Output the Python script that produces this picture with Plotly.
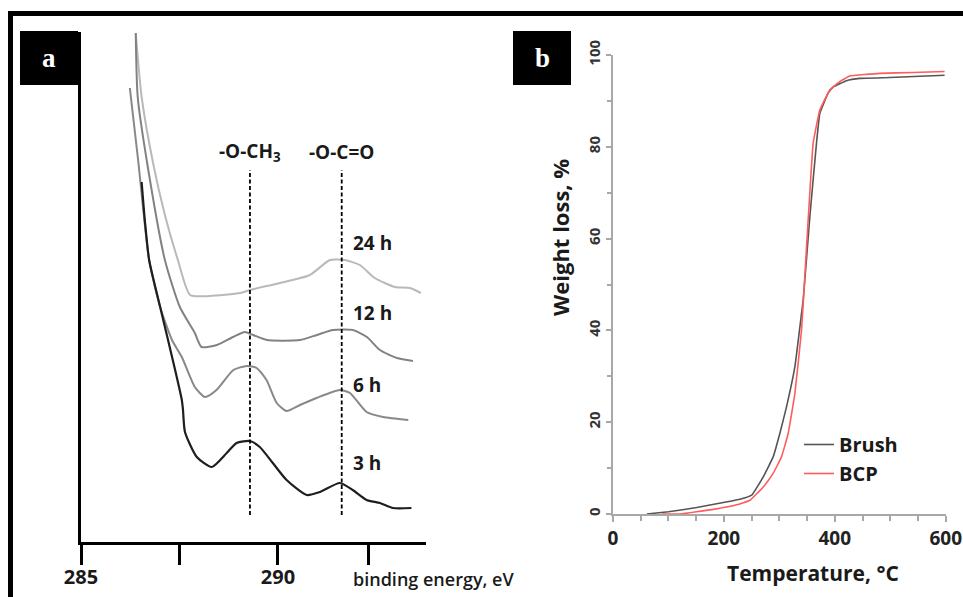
import plotly.graph_objects as go

W, H = 963, 597

# ---------------- Panel a: XPS C1s spectra (binding energy, eV ; intensity, a.u.) -------------
e_24h = [286.39, 286.54, 286.83, 287.13, 287.46, 287.77, 288.27, 289.04, 289.29, 290.05,
         290.81, 291.32, 291.70, 292.08, 292.46, 292.97, 293.35, 293.63]
i_24h = [509, 445, 379, 327, 282, 247, 246, 249, 252, 259,
         267, 282, 282, 277, 264, 255, 254, 249]

e_12h = [286.39, 286.44, 286.68, 287.13, 287.51, 287.89, 288.06, 288.45, 288.86, 289.16,
         289.37, 289.72, 290.56, 290.99, 291.40, 291.90, 292.26, 292.59, 293.02, 293.43]
i_12h = [509, 445, 379, 282, 235, 209, 195, 197, 205, 210,
         207, 202, 202, 207, 212, 212, 205, 192, 184, 181]

e_6h = [286.24, 286.45, 286.73, 287.01, 287.31, 287.56, 287.89, 288.15, 288.44,
        288.87, 289.21, 289.46, 289.71, 289.97, 290.22, 290.56, 290.98, 291.57, 291.83, 292.25,
        292.67, 293.31]
i_6h = [454, 382, 282, 235, 202, 185, 155, 145, 152,
        172, 176, 174, 162, 139, 131, 137, 144, 152, 149, 130,
        125, 122]

e_3h = [286.54, 286.62, 286.73, 287.01, 287.21, 287.39, 287.56, 287.59, 287.64, 287.94,
        288.32, 288.70, 288.95, 289.29, 289.54, 289.87, 290.22, 290.73, 291.07, 291.57, 291.90,
        292.25, 292.59, 292.92, 293.39]
i_3h = [360, 322, 282, 235, 202, 172, 142, 132, 110, 85,
        75, 89, 99, 101, 95, 79, 62, 47, 50, 59, 52,
        42, 39, 34, 34]

time_labels = ["24 h", "12 h", "6 h", "3 h"]
time_label_y = [299, 229, 157, 79]

peak_names = ["-O-CH<sub>3</sub>", "-O-C=O"]
peak_energies = [289.29, 291.62]
peak_line_span = [27, 372]

xa_tickvals = [285, 287.5, 290, 292.3]
xa_ticktext = ["285", " ", "290", " "]

# ---------------- Panel b: TGA (temperature, °C ; weight loss, %) -------------
t_brush = [61, 100, 151, 199, 229, 250, 271, 289, 301, 313, 328, 340, 343, 355, 367, 373, 388,
           397, 421, 445, 499, 598]
w_brush = [0, 0.5, 1.4, 2.5, 3.2, 4.1, 8.1, 12.5, 17.6, 23.4, 32.1, 43.7, 46.6, 64.8, 80.8, 87.3,
           91.7, 93.0, 94.4, 94.9, 95.1, 95.6]

t_bcp = [88, 121, 181, 223, 247, 271, 289, 304, 316, 328, 340, 361, 373, 391, 409, 427, 481,
         541, 598]
w_bcp = [0, 0, 1.0, 2.0, 3.0, 5.9, 8.9, 12.5, 17.6, 26.3, 40.1, 80.8, 88.0, 92.4, 94.2, 95.4,
         96.0, 96.2, 96.4]

FONT = "Open Sans"

fig = go.Figure()

for e, i, col, wd in [(e_24h, i_24h, "#b9b9b9", 2.0), (e_12h, i_12h, "#828282", 2.0),
                      (e_6h, i_6h, "#888888", 2.0), (e_3h, i_3h, "#1e1e1e", 2.2)]:
    fig.add_trace(go.Scatter(x=e, y=i, mode="lines",
                             line=dict(color=col, width=wd, shape="spline", smoothing=0.6),
                             xaxis="x", yaxis="y", showlegend=False, hoverinfo="skip"))

fig.add_trace(go.Scatter(x=t_brush, y=w_brush, mode="lines", name="Brush",
                         line=dict(color="#555555", width=1.6, shape="spline", smoothing=0.3),
                         xaxis="x2", yaxis="y2"))
fig.add_trace(go.Scatter(x=t_bcp, y=w_bcp, mode="lines", name="BCP",
                         line=dict(color="#ff5c5c", width=1.6, shape="spline", smoothing=0.3),
                         xaxis="x2", yaxis="y2"))

shapes = []
# outer frame
shapes.append(dict(type="rect", xref="paper", yref="paper",
                   x0=10.5 / W, y0=1 - 13.5 / H, x1=1.02, y1=-0.02,
                   line=dict(color="black", width=5), fillcolor="rgba(0,0,0,0)", layer="above"))
# panel label boxes
for x0 in (20, 513):
    shapes.append(dict(type="rect", xref="paper", yref="paper",
                       x0=x0 / W, x1=(x0 + 58) / W, y0=1 - 85 / H, y1=1 - 31 / H,
                       line=dict(width=0), fillcolor="black"))
# dashed reference lines
for pe in peak_energies:
    shapes.append(dict(type="line", xref="x", yref="y", x0=pe, x1=pe,
                       y0=peak_line_span[0], y1=peak_line_span[1],
                       line=dict(color="black", width=1.8, dash="4px,2.5px")))

ann = []
ann.append(dict(text="<b>a</b>", xref="paper", yref="paper", x=49 / W, y=1 - 58 / H,
                xanchor="center", yanchor="middle",
                showarrow=False, font=dict(family="Liberation Serif", size=27, color="white")))
ann.append(dict(text="<b>b</b>", xref="paper", yref="paper", x=542 / W, y=1 - 58 / H,
                xanchor="center", yanchor="middle",
                showarrow=False, font=dict(family="Liberation Serif", size=27, color="white")))
for name, pe in zip(peak_names, peak_energies):
    ann.append(dict(text="<b>" + name + "</b>", xref="x", yref="y", x=pe, y=390,
                    showarrow=False, xanchor="center", yanchor="middle",
                    font=dict(family=FONT, size=19, color="#1a1a1a")))
for lab, ly in zip(time_labels, time_label_y):
    ann.append(dict(text="<b>" + lab + "</b>", xref="x", yref="y", x=291.85, y=ly,
                    showarrow=False, xanchor="left", yanchor="middle",
                    font=dict(family=FONT, size=19, color="#1a1a1a")))
ann.append(dict(text="binding energy, eV", xref="paper", yref="paper", x=351 / W, y=1 - 579 / H,
                showarrow=False, xanchor="left", yanchor="middle",
                font=dict(family=FONT, size=18, color="#1a1a1a", weight=600)))
ann.append(dict(text="<b>Weight loss, %</b>", xref="paper", yref="paper", x=560 / W, y=1 - 238 / H,
                showarrow=False, textangle=-90, xanchor="center", yanchor="middle",
                font=dict(family=FONT, size=22, color="#1a1a1a")))
ann.append(dict(text="<b>Temperature, °C</b>", xref="paper", yref="paper", x=813 / W, y=1 - 573 / H,
                showarrow=False, xanchor="center", yanchor="middle",
                font=dict(family=FONT, size=21, color="#1a1a1a")))

fig.update_layout(
    width=W, height=H, autosize=False,
    margin=dict(l=0, r=0, t=0, b=0),
    paper_bgcolor="white", plot_bgcolor="white",
    font=dict(family=FONT, color="#1a1a1a"),
    shapes=shapes, annotations=ann,
    showlegend=True,
    legend=dict(x=799 / W, y=1 - 425 / H, xanchor="left", yanchor="top",
                bgcolor="rgba(0,0,0,0)", borderwidth=0, itemwidth=30,
                font=dict(family=FONT, size=20, color="#1a1a1a", weight="bold")),
    xaxis=dict(domain=[81 / W, 426 / W], range=[285, 293.76], anchor="y",
               showline=True, linecolor="black", linewidth=3,
               ticks="outside", ticklen=20, tickwidth=3, tickcolor="black",
               tickvals=xa_tickvals, ticktext=xa_ticktext, ticklabelstandoff=-5,
               tickfont=dict(family=FONT, size=20, color="#1a1a1a", weight="bold"),
               showgrid=False, zeroline=False, automargin=False),
    yaxis=dict(domain=[1 - 542 / H, 1 - 32 / H], range=[0, 510], anchor="x",
               showline=True, linecolor="black", linewidth=3,
               showticklabels=False, ticks="", showgrid=False, zeroline=False, automargin=False),
    xaxis2=dict(domain=[613 / W, 945.7 / W], range=[0, 600], anchor="y2",
                showline=True, linecolor="#a8a8a8", linewidth=1.5,
                tick0=0, dtick=200, ticks="outside", ticklen=6, tickcolor="#a8a8a8", tickwidth=1.5,
                minor=dict(dtick=50, ticks="outside", ticklen=5, tickcolor="#a8a8a8", tickwidth=1.5),
                tickfont=dict(family=FONT, size=19, color="#222222", weight="bold"),
                showgrid=False, zeroline=False, automargin=False),
    yaxis2=dict(domain=[1 - 514 / H, 1 - 55 / H], range=[0, 100], anchor="x2",
                showline=True, linecolor="#a8a8a8", linewidth=1.5,
                tick0=0, dtick=20, ticks="outside", ticklen=5, tickcolor="#a8a8a8", tickwidth=1.5,
                minor=dict(dtick=10, ticks="outside", ticklen=4, tickcolor="#a8a8a8", tickwidth=1.5),
                tickangle=-90,
                tickfont=dict(family=FONT, size=15, color="#333333", weight="bold"),
                showgrid=False, zeroline=False, automargin=False),
)

fig.write_html("out.html", config={"displayModeBar": False},
               post_script="document.body.style.margin='0';document.body.style.overflow='hidden';")
